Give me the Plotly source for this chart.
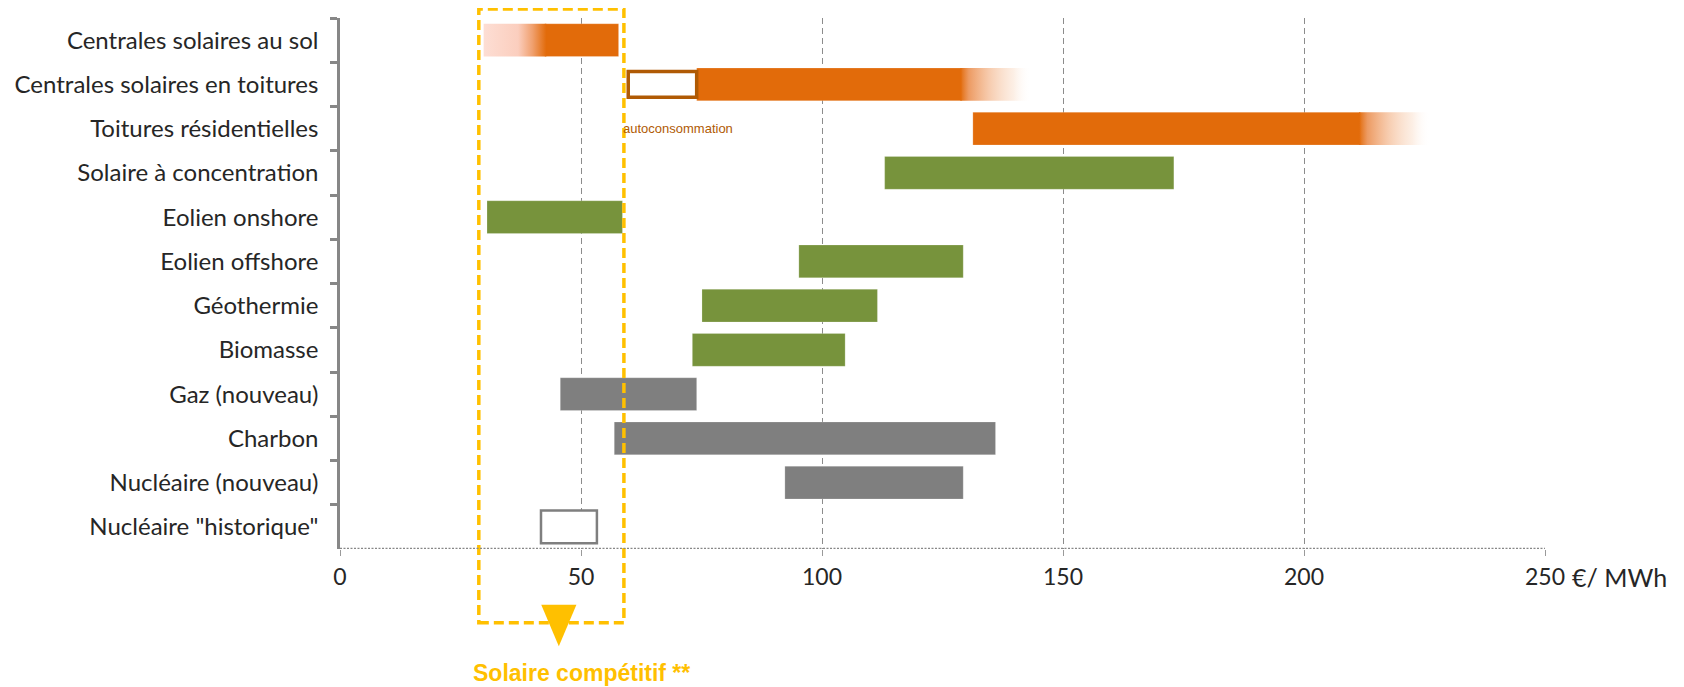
import plotly.graph_objects as go

# ---------------- data ----------------
categories = [
    "Centrales solaires au sol",
    "Centrales solaires en toitures",
    "Toitures résidentielles",
    "Solaire à concentration",
    "Eolien onshore",
    "Eolien offshore",
    "Géothermie",
    "Biomasse",
    "Gaz (nouveau)",
    "Charbon",
    "Nucléaire (nouveau)",
    'Nucléaire "historique"',
]
groups = ["solaire"] * 3 + ["renouvelable"] * 5 + ["conventionnel"] * 3 + ["historique"]
cost_low = [42.5, 74.0, 131.3, 113.0, 30.5, 95.2, 75.1, 73.1, 45.7, 56.9, 92.3, 41.7]
cost_high = [57.8, 129.0, 211.7, 173.0, 58.6, 129.3, 111.5, 104.8, 74.0, 136.0, 129.3, 53.3]
# uncertain (faded) extensions of the solar ranges
fade_low = [29.8, None, None, None, None, None, None, None, None, None, None, None]
fade_high = [None, 143.4, 226.2, None, None, None, None, None, None, None, None, None]
# self-consumption range on rooftop plants
autoconso_row = 1
autoconso_low, autoconso_high = 59.8, 74.0
# "competitive solar" band
competitive_low, competitive_high = 28.8, 58.9
competitive_marker = 45.4
competitive_label_x = 50.2
x_ticks = [0, 50, 100, 150, 200, 250]

# ---------------- style ----------------
ORANGE = "rgb(226,107,10)"
GREEN = "#77933C"
GRAY = "#7f7f7f"
BROWN = "#B05A04"
YELLOW = "#FFC000"
AXIS_GRAY = "#878787"
TXT = "#262626"
LABEL_FONT = "Lato, Carlito, Liberation Sans Narrow, sans-serif"
colors = {"solaire": ORANGE, "renouvelable": GREEN, "conventionnel": GRAY, "historique": "white"}
BAR_W = 0.74
PAGE_OFFSET = 8  # default body margin of the html page

fig = go.Figure()

idx = list(range(len(categories)))

# solid bars
fig.add_trace(go.Bar(
    orientation="h",
    y=idx,
    base=cost_low,
    x=[h - l for l, h in zip(cost_low, cost_high)],
    width=BAR_W,
    marker=dict(
        color=[colors[g] for g in groups],
        line=dict(color=[GRAY if g == "historique" else "rgba(255,255,255,0.4)" for g in groups],
                  width=[2.5 if g == "historique" else 0.5 for g in groups]),
    ),
    hoverinfo="skip",
    showlegend=False,
))

# self-consumption hollow box
fig.add_trace(go.Bar(
    orientation="h",
    y=[autoconso_row],
    base=[autoconso_low],
    x=[autoconso_high - autoconso_low],
    width=BAR_W * 0.78,
    marker=dict(color="white", line=dict(color=BROWN, width=3.5)),
    hoverinfo="skip",
    showlegend=False,
))

# faded (gradient) extensions
def gradient_patch(i, a, b, scale):
    h = BAR_W / 2
    fig.add_trace(go.Scatter(
        x=[a, b, b, a, a],
        y=[i - h, i - h, i + h, i + h, i - h],
        mode="lines",
        line=dict(width=0, color="rgba(0,0,0,0)"),
        fill="toself",
        fillgradient=dict(type="horizontal", colorscale=scale),
        hoverinfo="skip",
        showlegend=False,
    ))

for i in idx:
    if fade_low[i] is not None:
        gradient_patch(i, fade_low[i], cost_low[i] + 0.3,
                       [[0, "rgb(253,222,212)"], [0.55, "rgb(251,206,190)"],
                        [0.78, "rgb(240,160,110)"], [1, ORANGE]])
    if fade_high[i] is not None:
        gradient_patch(i, cost_high[i] - 0.3, fade_high[i],
                       [[0, ORANGE], [0.12, "rgba(232,130,60,0.8)"], [0.4, "rgba(238,150,90,0.5)"],
                        [0.75, "rgba(245,190,150,0.25)"], [1, "rgba(255,255,255,0)"]])

# ---------------- annotations ----------------
fig.add_annotation(
    x=autoconso_low - 1.6, y=autoconso_row + 1, xref="x", yref="y",
    text="autoconsommation", showarrow=False, xanchor="left", yanchor="middle",
    font=dict(family="Liberation Sans Narrow, Liberation Sans, sans-serif", size=13, color=BROWN),
)
fig.add_annotation(
    x=1.021, y=-0.053, xref="paper", yref="paper",
    text="€/ MWh", showarrow=False, xanchor="left", yanchor="middle",
    font=dict(family=LABEL_FONT, size=25, color=TXT),
)
fig.add_annotation(
    x=competitive_label_x, y=-0.2335, xref="x", yref="paper",
    text="<b>Solaire compétitif **</b>", showarrow=False, xanchor="center", yanchor="middle",
    font=dict(family="Liberation Sans Narrow, Liberation Sans, Arial, sans-serif", size=23, color=YELLOW),
)

# competitive band (dashed box)
fig.add_shape(
    type="rect", xref="x", yref="paper",
    x0=competitive_low, x1=competitive_high, y0=-0.139, y1=1.017,
    line=dict(color=YELLOW, width=3.5, dash="10px,5px"), fillcolor="rgba(0,0,0,0)",
    layer="above",
)
# triangle marker
tw = 3.65
fig.add_shape(
    type="path", xref="x", yref="paper",
    path=f"M {competitive_marker - tw},-0.105 L {competitive_marker + tw},-0.105 L {competitive_marker},-0.183 Z",
    fillcolor=YELLOW, line=dict(color=YELLOW, width=0), layer="above",
)
# dotted baseline
fig.add_shape(
    type="line", xref="x", yref="y",
    x0=0, x1=x_ticks[-1], y0=len(categories) - 0.5, y1=len(categories) - 0.5,
    line=dict(color=AXIS_GRAY, width=2.5, dash="2px,1.5px"), layer="above",
)

fig.update_layout(
    width=1684, height=687,
    margin=dict(l=340 - PAGE_OFFSET, r=139 + PAGE_OFFSET, t=18 - PAGE_OFFSET, b=138 + PAGE_OFFSET,
                autoexpand=False),
    paper_bgcolor="white", plot_bgcolor="white",
    barmode="overlay",
    showlegend=False,
    font=dict(family=LABEL_FONT, color=TXT),
)
fig.update_xaxes(
    range=[0, 250],
    tickvals=x_ticks,
    automargin=False,
    showgrid=True, gridcolor="#8c8c8c", gridwidth=1, griddash="6px,4px",
    zeroline=False, showline=False,
    ticks="outside", ticklen=6, tickcolor="#9a9a9a", tickwidth=1,
    ticklabelstandoff=1,
    tickfont=dict(family=LABEL_FONT, size=23, color=TXT),
)
fig.update_yaxes(
    range=[len(categories) - 0.5, -0.5],
    automargin=False,
    tickmode="array", tickvals=idx, ticktext=categories,
    showgrid=False, zeroline=False,
    showline=True, linecolor=AXIS_GRAY, linewidth=2.5,
    ticks="", ticklabelstandoff=14,
    minor=dict(tickmode="array", tickvals=[i - 0.5 for i in idx], ticks="outside",
               ticklen=7, tickcolor=AXIS_GRAY, tickwidth=2.5, showgrid=False),
    tickfont=dict(family=LABEL_FONT, size=24, color=TXT),
)

fig.write_html("out.html")
